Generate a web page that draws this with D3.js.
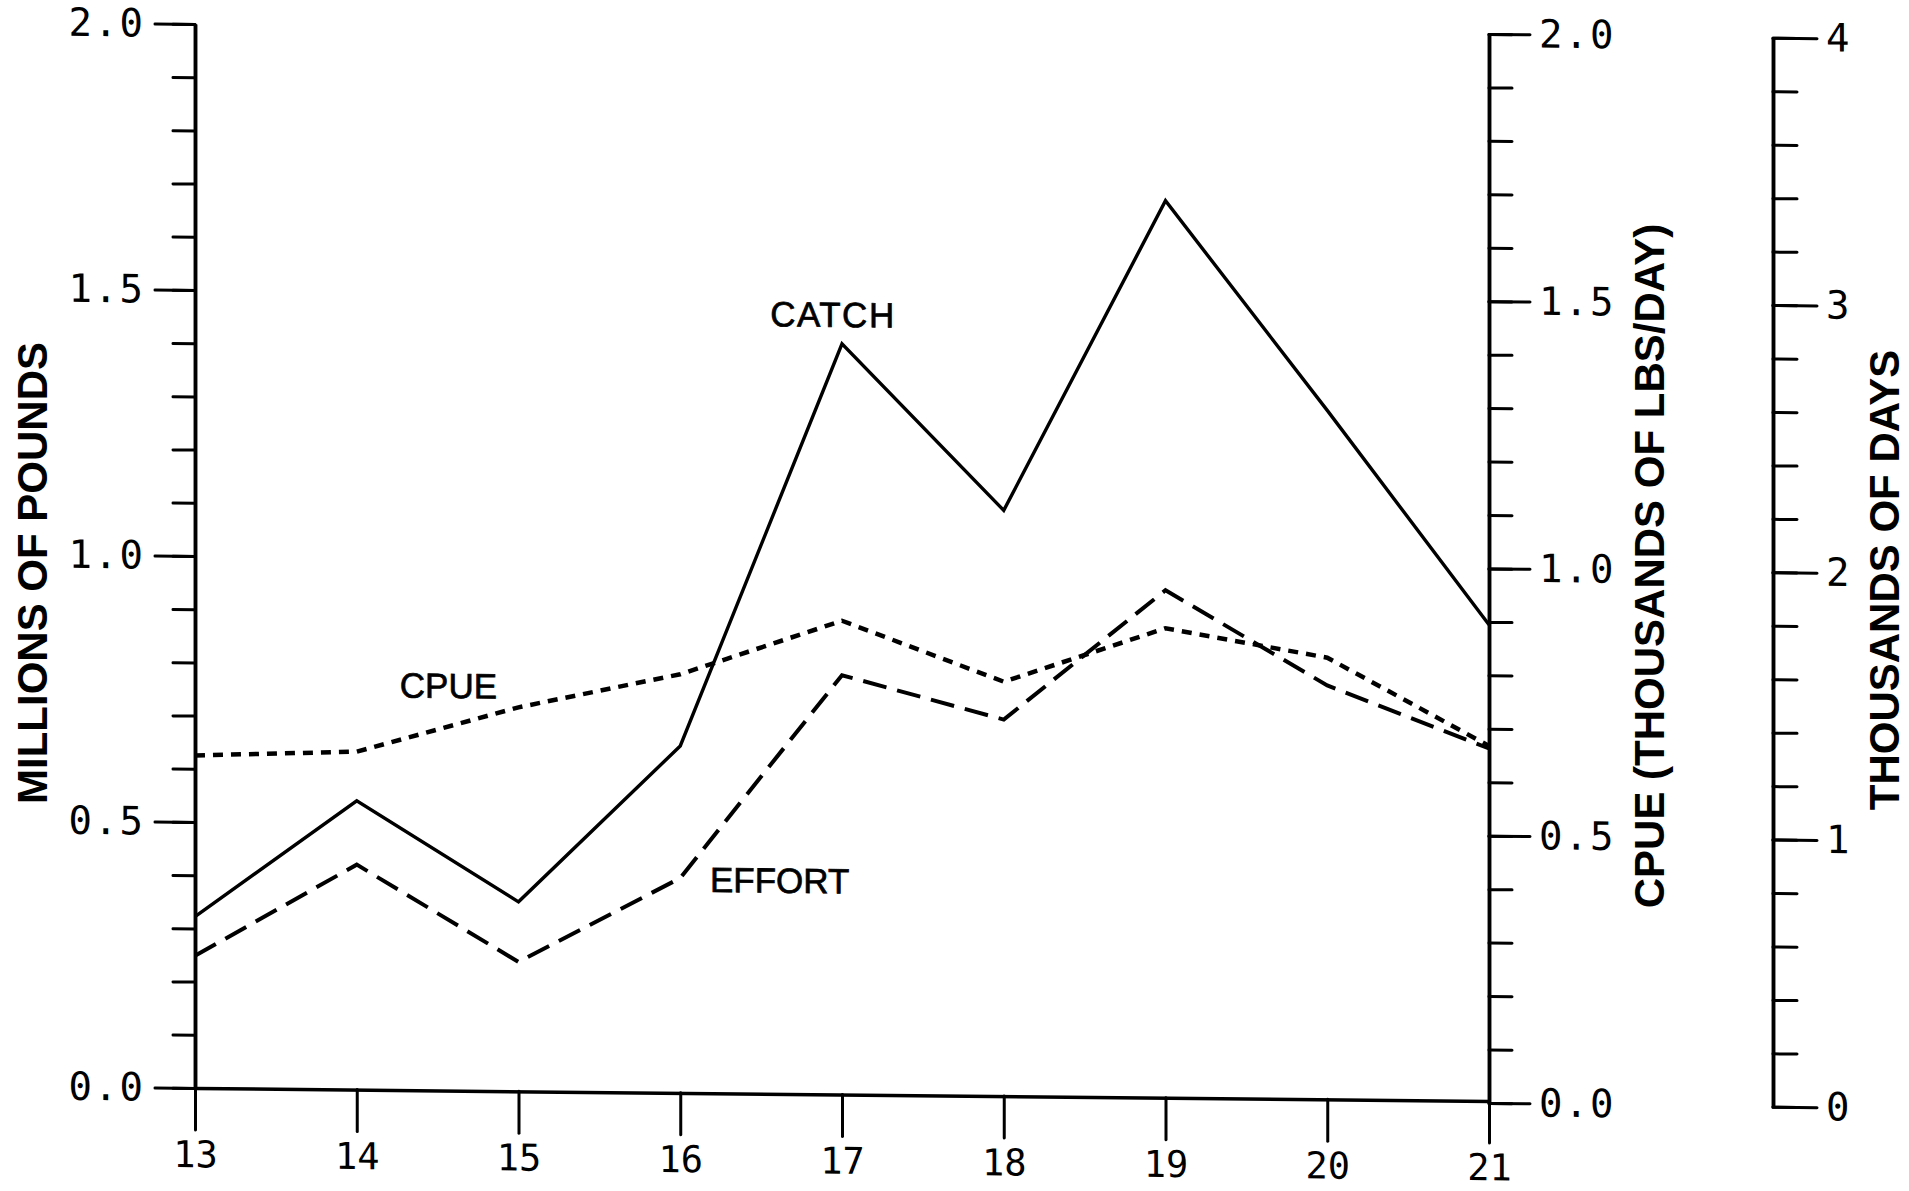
<!DOCTYPE html>
<html>
<head>
<meta charset="utf-8">
<script src="https://cdn.jsdelivr.net/npm/d3@7"></script>
<style>
  html, body { margin: 0; padding: 0; background: #fff; }
  svg { display: block; }
</style>
</head>
<body>
<script>
// ---- data ----
const years = [13, 14, 15, 16, 17, 18, 19, 20, 21];
const catchMillionLbs = [0.322, 0.543, 0.356, 0.652, 1.411, 1.101, 1.686, 1.295, 0.895];
const cpueThousandLbsPerDay = [0.626, 0.636, 0.722, 0.787, 0.890, 0.779, 0.882, 0.830, 0.668];
const effortThousandDays = [0.506, 0.853, 0.495, 0.815, 1.58, 1.42, 1.91, 1.56, 1.33];
const leftTickLabels = ["0.0", "0.5", "1.0", "1.5", "2.0"];
const cpueTickLabels = ["0.0", "0.5", "1.0", "1.5", "2.0"];
const daysTickLabels = ["0", "1", "2", "3", "4"];
const xTickLabels = ["13", "14", "15", "16", "17", "18", "19", "20", "21"];

// ---- layout ----
const W = 1909, H = 1191;
const skew = 0.01; // scanned sheet is slightly sheared
const X0 = 195;

const svg = d3.select("body").append("svg")
  .attr("width", W).attr("height", H)
  .style("background", "#fff");

const g = svg.append("g")
  .attr("transform", `matrix(1,${skew},0,1,0,${-skew * X0})`);

const x = d3.scaleLinear().domain([13, 21]).range([195, 1489]);
const yLeft = d3.scaleLinear().domain([0, 2]).range([1088, 24]);
const yCpue = d3.scaleLinear().domain([0, 2]).range([1090, 21]);
const yDays = d3.scaleLinear().domain([0, 4]).range([1091, 22]);

const monoFont = "'DejaVu Sans Mono', 'Liberation Mono', monospace";
const sansFont = "'Liberation Sans', Arial, Helvetica, sans-serif";

function styleAxis(sel, sw) {
  sel.selectAll("path.domain").attr("stroke", "#000").attr("stroke-width", 3.5);
  sel.selectAll(".tick line").attr("stroke", "#000").attr("stroke-width", sw).attr("stroke-linecap", "round");
  sel.selectAll(".tick text")
    .attr("fill", "#000")
    .style("font-family", monoFont)
    .style("font-size", "39px")
    .style("letter-spacing", "2px");
}

const minor = d3.range(0, 21).map(i => i / 10);
const majorLeft = leftTickLabels.map(Number);

// Left axis (millions of pounds)
g.append("g").attr("transform", `translate(${x(13)},0)`)
  .call(d3.axisLeft(yLeft).tickValues(minor).tickSize(22).tickSizeOuter(0).tickFormat(""))
  .call(s => styleAxis(s, 3));
g.append("g").attr("transform", `translate(${x(13)},0)`)
  .call(d3.axisLeft(yLeft).tickValues(majorLeft).tickSize(40).tickSizeOuter(0).tickPadding(10)
    .tickFormat((d, i) => leftTickLabels[i]))
  .call(s => styleAxis(s, 3));

// Bottom axis
g.append("g").attr("transform", `translate(0,${yLeft(0)})`)
  .call(d3.axisBottom(x).tickValues(years).tickSize(42).tickSizeOuter(0).tickPadding(11)
    .tickFormat((d, i) => xTickLabels[i]))
  .call(s => styleAxis(s, 3))
  .call(s => s.selectAll(".tick text").style("letter-spacing", "0px").style("font-size", "37px"));

// Right axis: CPUE
const majorCpue = cpueTickLabels.map(Number);
g.append("g").attr("transform", `translate(${x(21)},0)`)
  .call(d3.axisRight(yCpue).tickValues(minor).tickSize(23).tickSizeOuter(0).tickFormat(""))
  .call(s => styleAxis(s, 3));
g.append("g").attr("transform", `translate(${x(21)},0)`)
  .call(d3.axisRight(yCpue).tickValues(majorCpue).tickSize(41).tickSizeOuter(0).tickPadding(9)
    .tickFormat((d, i) => cpueTickLabels[i]))
  .call(s => styleAxis(s, 3));

// Far right axis: thousands of days
const daysAxisX = x(21) + 284;
const minorDays = d3.range(0, 21).map(i => i / 5);
const majorDays = daysTickLabels.map(Number);
g.append("g").attr("transform", `translate(${daysAxisX},0)`)
  .call(d3.axisRight(yDays).tickValues(minorDays).tickSize(24).tickSizeOuter(0).tickFormat(""))
  .call(s => styleAxis(s, 3));
g.append("g").attr("transform", `translate(${daysAxisX},0)`)
  .call(d3.axisRight(yDays).tickValues(majorDays).tickSize(44).tickSizeOuter(0).tickPadding(9)
    .tickFormat((d, i) => daysTickLabels[i]))
  .call(s => styleAxis(s, 3));

// ---- series ----
const lineCatch = d3.line().x((d, i) => x(years[i])).y(d => yLeft(d));
const lineCpue = d3.line().x((d, i) => x(years[i])).y(d => yCpue(d));
const lineDays = d3.line().x((d, i) => x(years[i])).y(d => yDays(d));

g.append("path").datum(catchMillionLbs)
  .attr("d", lineCatch).attr("fill", "none").attr("stroke", "#000")
  .attr("stroke-width", 3.4).attr("stroke-linejoin", "miter");

g.append("path").datum(cpueThousandLbsPerDay)
  .attr("d", lineCpue).attr("fill", "none").attr("stroke", "#000")
  .attr("stroke-width", 4.5).attr("stroke-dasharray", "10,8");

g.append("path").datum(effortThousandDays)
  .attr("d", lineDays).attr("fill", "none").attr("stroke", "#000")
  .attr("stroke-width", 4).attr("stroke-dasharray", "24,11");

// ---- series labels ----
const lab = g.append("g").style("font-family", sansFont).style("font-size", "35px")
  .attr("fill", "#000").attr("stroke", "#000").attr("stroke-width", 0.7);
lab.append("text").attr("x", x(16.944)).attr("y", yLeft(1.4425)).attr("text-anchor", "middle")
  .style("letter-spacing", "1.5px").text("CATCH");
lab.append("text").attr("x", x(14.567)).attr("y", yLeft(0.738)).attr("text-anchor", "middle").text("CPUE");
lab.append("text").attr("x", x(16.184)).attr("y", yLeft(0.378)).attr("text-anchor", "start").text("EFFORT");

// ---- axis titles ----
const titles = [
  { t: "MILLIONS OF POUNDS", cx: 32, cy: 573 },
  { t: "CPUE (THOUSANDS OF LBS/DAY)", cx: 1649, cy: 566 },
  { t: "THOUSANDS OF DAYS", cx: 1884, cy: 580 }
];
svg.append("g").selectAll("text").data(titles).join("text")
  .attr("transform", d => `translate(${d.cx},${d.cy}) rotate(-90)`)
  .attr("text-anchor", "middle")
  .attr("dominant-baseline", "central")
  .style("font-family", sansFont)
  .style("font-weight", "bold")
  .style("font-size", "42px")
  .attr("fill", "#000")
  .text(d => d.t);
</script>
</body>
</html>
